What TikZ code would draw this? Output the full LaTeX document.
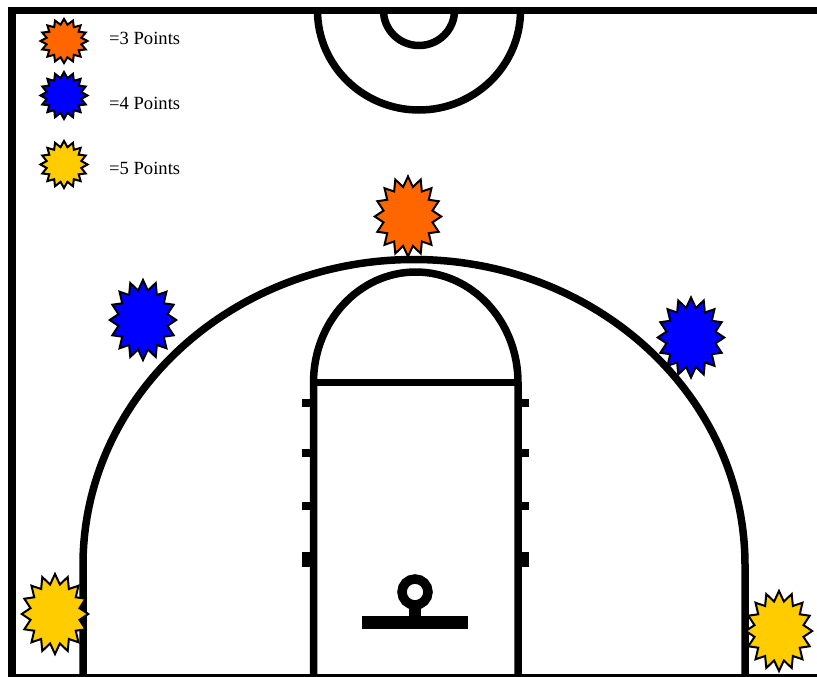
\documentclass[tikz,border=0pt]{standalone}
\usepackage{fontspec}
\setmainfont{Liberation Serif}
\usetikzlibrary{shapes.geometric}
\definecolor{ptthree}{HTML}{FF6600}
\definecolor{ptfour}{HTML}{0000FF}
\definecolor{ptfive}{HTML}{FFCC00}
\tikzset{
	burst/.style={star, star points=16, star point ratio=1.33, draw=black, line width=2pt, miter limit=3, inner sep=0pt, transform shape},
	bigburst/.style={burst, minimum size=80pt, xscale=0.83},
	keyburst/.style={burst, minimum size=47pt},
	keytext/.style={anchor=base west, inner sep=0pt, font=\fontsize{18.6}{20}\selectfont},
	court/.style={line width=7.5pt}
}
\begin{document}
\begin{tikzpicture}[x=1pt, y=-1pt, line join=miter]
	\useasboundingbox (0,0) rectangle (817,677);
	\coordinate (FL) at (12,677);
	\coordinate (FT) at (12,10.5);
	\coordinate (FR) at (817,10.5);
	\coordinate (BL) at (12,675.5);
	\coordinate (BR) at (817,675.5);
	\coordinate (TL) at (83,677);
	\coordinate (TB) at (83,565);
	\coordinate (LL) at (313.5,677);
	\coordinate (LT) at (313.5,382.5);
	\coordinate (RL) at (518,677);
	\coordinate (RT) at (518,382.5);
	\coordinate (HC) at (415,592);
	\coordinate (HB) at (415,617);
	\coordinate (BA) at (362,622.5);
	\coordinate (BB) at (468,622.5);
	
	% frame
	\draw[line width=7.5pt] (FL) -- (FT) -- (FR);
	\draw[line width=3.5pt] (BL) -- (BR);
	% top half circles
	\draw[court] (317.5,10.5) arc[start angle=180, end angle=0, x radius=101.5, y radius=99.5];
	\draw[court] (383.5,10.5) arc[start angle=180, end angle=0, x radius=35.5, y radius=35];
	% three point line
	\draw[court] (TL) -- (TB) arc[start angle=180, end angle=360, x radius=331, y radius=305.5] -- (745,677);
	% lane
	\draw[court] (LL) -- (LT) arc[start angle=180, end angle=360, x radius=102.25, y radius=110.5] -- (RL);
	\draw[line width=6.5pt] (LT) -- (RT);
	% hash marks
	\foreach \y/\h in {403/8, 453/8, 506/8, 559/15} {
		\fill (302,\y-\h/2) rectangle (313,\y+\h/2);
		\fill (518,\y-\h/2) rectangle (529,\y+\h/2);
	}
	% hoop
	\draw[line width=9.5pt] (HC) circle[radius=13];
	\draw[line width=12pt] (415,605) -- (HB);
	\draw[line width=13pt] (BA) -- (BB);
	
	% key
	\node[keyburst, fill=ptthree, yscale=0.94] (KeyThree) at (64,41) {};
	\node[keyburst, fill=ptfour] (KeyFour) at (64,95.5) {};
	\node[keyburst, fill=ptfive] (KeyFive) at (64,164.5) {};
	\node[keytext] (TextThree) at (109,44.5) {=3 Points};
	\node[keytext] (TextFour) at (109,109.5) {=4 Points};
	\node[keytext] (TextFive) at (109,174) {=5 Points};
	
	% spots
	\node[bigburst, fill=ptthree] (SpotTop) at (408,216.5) {};
	\node[bigburst, fill=ptfour] (SpotLeft) at (143,320) {};
	\node[bigburst, fill=ptfour] (SpotRight) at (691,337.5) {};
	\node[bigburst, fill=ptfive] (SpotLow) at (55,614) {};
	\node[bigburst, fill=ptfive] (SpotHigh) at (779,631) {};
\end{tikzpicture}
\end{document}
